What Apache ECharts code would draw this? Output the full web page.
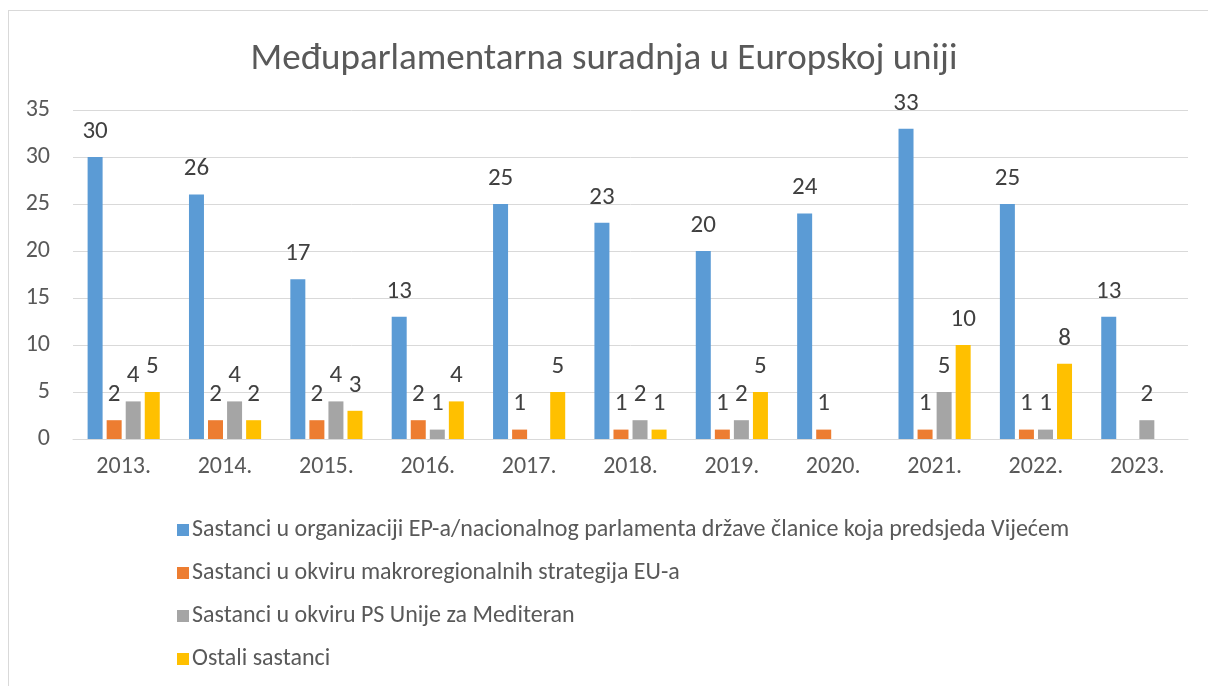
<!DOCTYPE html>
<html>
<head>
<meta charset="utf-8">
<script src="https://cdn.jsdelivr.net/npm/echarts@6/dist/echarts.min.js"></script>
<style>
  html, body { margin: 0; padding: 0; background: #fff; }
  #frame {
    position: absolute; left: 8px; top: 10px; width: 1200px; height: 676px;
    border-left: 1px solid #d9d9d9; border-top: 1px solid #d9d9d9;
    box-sizing: border-box;
  }
  #chart { position: absolute; left: 0; top: 0; width: 1208px; height: 686px; }
</style>
</head>
<body>
<div id="frame"></div>
<div id="chart"></div>
<script>
const years = ['2013.', '2014.', '2015.', '2016.', '2017.', '2018.', '2019.', '2020.', '2021.', '2022.', '2023.'];
const seriesNames = [
  'Sastanci u organizaciji EP-a/nacionalnog parlamenta države članice koja predsjeda Vijećem',
  'Sastanci u okviru makroregionalnih strategija EU-a',
  'Sastanci u okviru PS Unije za Mediteran',
  'Ostali sastanci'
];
const epMeetings = [30, 26, 17, 13, 25, 23, 20, 24, 33, 25, 13];
const macroMeetings = [2, 2, 2, 2, 1, 1, 1, 1, 1, 1, null];
const medMeetings = [4, 4, 4, 1, null, 2, 2, null, 5, 1, 2];
const otherMeetings = [5, 2, 3, 4, 5, 1, 5, null, 10, 8, null];
const yTicks = [0, 5, 10, 15, 20, 25, 30, 35];

const colors = ['#5b9bd5', '#ed7d31', '#a5a5a5', '#ffc000'];
const font = 'Calibri, Carlito, "Noto Sans", sans-serif';

const chart = echarts.init(document.getElementById('chart'));

const makeSeries = (name, data, color) => ({
  name: name,
  type: 'bar',
  data: data,
  barWidth: 15,
  barGap: '27%',
  itemStyle: { color: color },
  label: {
    show: true,
    position: 'top',
    distance: 13,
    color: '#404040',
    fontSize: 25,
    fontFamily: font
  }
});

chart.setOption({
  textStyle: { fontFamily: font },
  title: {
    text: 'Međuparlamentarna suradnja u Europskoj uniji',
    left: 'center',
    top: 36,
    textStyle: { color: '#595959', fontSize: 37, fontWeight: 'normal', fontFamily: font }
  },
  grid: { left: 73, right: 20, top: 110, bottom: 247 },
  legend: {
    orient: 'vertical',
    left: 172,
    top: 513,
    itemGap: 19,
    itemWidth: 12,
    itemHeight: 12,
    icon: 'rect',
    data: seriesNames,
    textStyle: { color: '#595959', fontSize: 24, lineHeight: 24, fontFamily: font, padding: [0, 0, 0, -2] }
  },
  xAxis: {
    type: 'category',
    data: years,
    axisLine: { lineStyle: { color: '#d9d9d9', width: 1 } },
    axisTick: { show: false },
    axisLabel: { color: '#595959', fontSize: 24, margin: 16, fontFamily: font }
  },
  yAxis: {
    type: 'value',
    min: 0,
    max: 35,
    interval: 5,
    axisLine: { show: false },
    axisTick: { show: false },
    splitLine: { lineStyle: { color: '#d9d9d9', width: 1 } },
    axisLabel: {
      color: '#595959', fontSize: 24, margin: 23, fontFamily: font,
      formatter: v => yTicks.includes(v) ? String(v) : ''
    }
  },
  series: [
    makeSeries(seriesNames[0], epMeetings, colors[0]),
    makeSeries(seriesNames[1], macroMeetings, colors[1]),
    makeSeries(seriesNames[2], medMeetings, colors[2]),
    makeSeries(seriesNames[3], otherMeetings, colors[3])
  ]
});
</script>
</body>
</html>
